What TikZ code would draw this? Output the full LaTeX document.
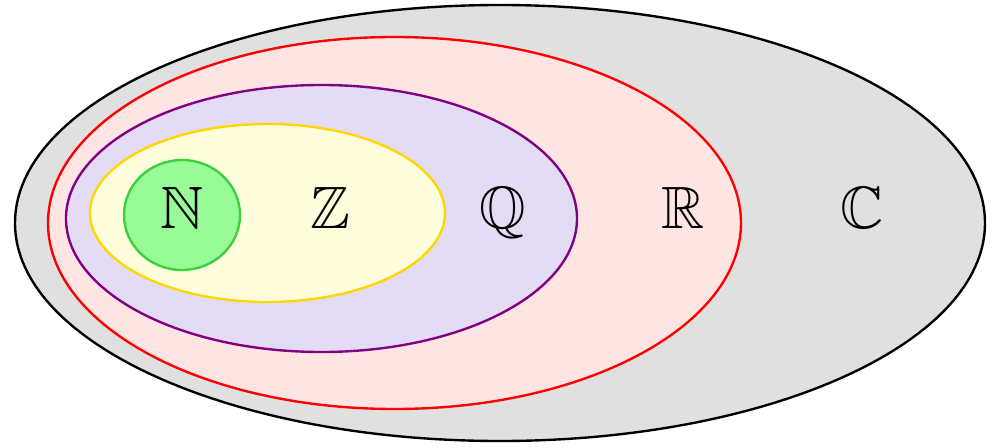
\documentclass[tikz,border=0pt]{standalone}
\usepackage{amsmath,amssymb}
\usepackage{tikz}
\definecolor{setC}{HTML}{000000}
\definecolor{setR}{HTML}{FF0000}
\definecolor{setQ}{HTML}{800080}
\definecolor{setZ}{HTML}{FFD700}
\definecolor{setN}{HTML}{3ECF3E}
\definecolor{fillC}{HTML}{E0E0E0}
\definecolor{fillR}{HTML}{FFE4E4}
\definecolor{fillQ}{HTML}{E4DCF4}
\definecolor{fillZ}{HTML}{FEFEDC}
\definecolor{fillN}{HTML}{98FB98}
\tikzset{setlabel/.style={anchor=base,font=\fontsize{34}{40}\selectfont}}

\begin{document}
\begin{tikzpicture}[line width=1.35pt]
  \useasboundingbox (0,0) rectangle (20,8.94);
  % nested number sets, outermost first
  \draw[setC,fill=fillC] (10,4.48) ellipse (9.7 and 4.36);
  \draw[setR,fill=fillR] (7.89,4.48) ellipse (6.93 and 3.72);
  \draw[setQ,fill=fillQ] (6.43,4.57) ellipse (5.11 and 2.67);
  \draw[setZ,fill=fillZ] (5.35,4.68) ellipse (3.55 and 1.78);
  \draw[setN,fill=fillN] (3.64,4.64) ellipse (1.16 and 1.1);
  % labels
  \node[setlabel] (lN) at (3.64,4.38) {$\mathbb{N}$};
  \node[setlabel] (lZ) at (6.6,4.38) {$\mathbb{Z}$};
  \node[setlabel] (lQ) at (10.06,4.38) {$\mathbb{Q}$};
  \node[setlabel] (lR) at (13.66,4.38) {$\mathbb{R}$};
  \node[setlabel] (lC) at (17.24,4.38) {$\mathbb{C}$};
\end{tikzpicture}
\end{document}
